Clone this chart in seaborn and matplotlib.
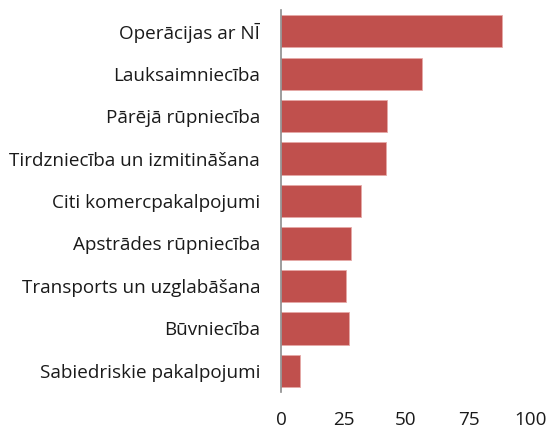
import matplotlib
matplotlib.use("Agg")
import matplotlib.pyplot as plt
import seaborn as sns
import pandas as pd

# Data
categories = [
    "Operācijas ar NĪ",
    "Lauksaimniecība",
    "Pārējā rūpniecība",
    "Tirdzniecība un izmitināšana",
    "Citi komercpakalpojumi",
    "Apstrādes rūpniecība",
    "Transports un uzglabāšana",
    "Būvniecība",
    "Sabiedriskie pakalpojumi",
]
values = [88.3, 56.4, 42.5, 42.0, 32.1, 28.0, 25.9, 27.3, 7.5]
x_ticks = [0, 25, 50, 75, 100]

df = pd.DataFrame({"category": categories, "value": values})

sns.set_style("white")
plt.rcParams["font.family"] = ["Open Sans", "DejaVu Sans"]

fig = plt.figure(figsize=(5.51, 4.28), dpi=100)
ax = fig.add_axes([0.51, 0.084, 0.4537, 0.8926])

sns.barplot(data=df, x="value", y="category", color="#C0504D", saturation=1,
            width=0.76, edgecolor="#E6A9A7", linewidth=0.6, ax=ax)

ax.set_xlim(0, 100)
ax.set_ylim(8.5, -0.5)
ax.set_xticks(x_ticks)
ax.set_xlabel("")
ax.set_ylabel("")
ax.tick_params(axis="y", length=0, pad=15, labelsize=13.6, labelcolor="#1a1a1a")
ax.tick_params(axis="x", length=0, pad=14, labelsize=13.6, labelcolor="#1a1a1a")

for s in ["top", "right", "bottom"]:
    ax.spines[s].set_visible(False)
ax.spines["left"].set_color("#8C8C8C")
ax.spines["left"].set_linewidth(1.2)

fig.savefig("out.png", dpi=100)
